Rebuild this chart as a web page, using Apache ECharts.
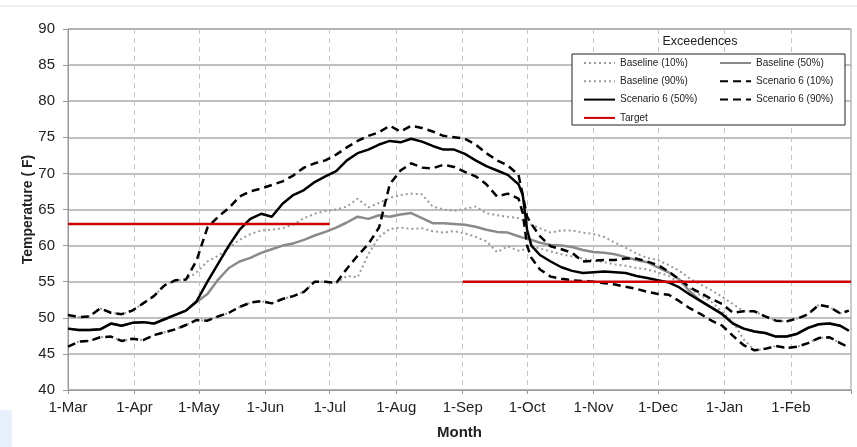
<!DOCTYPE html>
<html>
<head>
<meta charset="utf-8">
<script src="https://cdn.jsdelivr.net/npm/echarts@6/dist/echarts.min.js"></script>
<style>html,body{margin:0;padding:0;background:#fff}#c{width:857px;height:447px}</style>
</head>
<body>
<div id="c"></div>
<script>
// Day offsets from 1-Mar
const days = [0,5,10,15,20,25,30,35,40,45,50,55,60,65,70,75,80,85,90,95,100,105,110,115,120,125,130,135,140,145,150,155,160,165,170,175,180,185,190,195,200,205,210,212,214,216,220,225,230,235,240,245,250,255,260,265,270,275,280,285,290,295,300,305,310,315,320,325,330,335,340,345,350,355,360,364];
const monthNames = ['Jan','Feb','Mar','Apr','May','Jun','Jul','Aug','Sep','Oct','Nov','Dec'];

const baseline10 = [50.4,50.1,50.2,51.3,50.7,50.5,51.0,52.0,53.0,54.5,
  55.2,55.3,56.3,57.8,58.6,59.7,60.8,61.6,62.1,62.2,
  62.4,62.9,63.8,64.4,64.8,65.0,65.4,66.5,65.3,65.9,
  66.6,67.0,67.2,67.1,65.4,65.0,64.8,65.1,65.4,64.5,
  64.2,64.0,63.8, 63.5,63.2,62.9,
  62.4,61.8,62.1,62.1,61.8,61.6,61.2,60.4,59.7,58.9,
  58.3,58.0,57.3,56.5,55.4,54.6,53.8,52.9,51.9,50.9,
  50.9,50.2,49.6,49.5,49.9,50.5,51.8,51.5,50.6, 51.0];
const baseline50 = [48.5,48.3,48.3,48.4,49.2,48.9,49.3,49.4,49.2,49.8,
  50.4,51.0,52.2,53.3,55.3,56.9,57.8,58.3,59.0,59.5,
  60.0,60.3,60.8,61.4,61.9,62.5,63.2,64.0,63.7,64.2,
  64.0,64.3,64.5,63.8,63.1,63.1,63.0,62.9,62.6,62.2,
  61.9,61.8,61.3, 61.1,61.0,60.8,
  60.4,60.1,60.0,59.8,59.4,59.1,59.0,58.8,58.4,58.0,
  57.7,57.0,56.3,55.3,53.6,52.3,51.4,50.5,49.2,48.5,
  48.1,47.9,47.4,47.4,47.8,48.6,49.1,49.2,48.9, 48.2];
const baseline90 = [46.0,46.7,46.8,47.3,47.4,46.8,47.1,46.9,47.6,48.0,
  48.4,49.0,49.7,49.6,50.2,50.7,51.5,52.1,52.3,52.0,
  52.6,53.0,53.6,55.0,55.0,54.8,55.8,55.6,58.8,61.2,
  62.3,62.5,62.3,62.4,62.0,61.8,62.0,61.7,61.2,60.6,
  59.1,59.9,59.3, 59.4,59.7,59.9,
  59.6,59.2,58.8,58.5,58.2,57.9,57.7,57.4,57.2,56.9,
  56.7,56.3,55.8,54.9,54.0,53.1,52.2,50.8,49.4,47.0,
  45.5,45.7,46.1,45.8,46.0,46.5,47.2,47.3,46.5, 45.9];
const scenario10 = [50.4,50.1,50.2,51.3,50.7,50.5,51.0,52.0,53.0,54.5,
  55.2,55.3,58.0,62.5,64.0,65.2,66.8,67.5,67.9,68.4,
  68.9,69.7,70.8,71.4,71.8,72.6,73.6,74.5,75.2,75.7,
  76.6,75.8,76.6,76.3,75.8,75.2,75.0,74.8,74.0,72.8,
  71.8,71.1,69.8, 67.0,64.0,63.0,
  61.3,59.9,59.5,59.0,57.8,57.9,58.0,58.0,58.2,58.2,
  57.8,57.3,56.4,55.3,54.2,53.4,52.6,51.9,50.7,50.9,
  50.9,50.2,49.6,49.5,49.9,50.5,51.8,51.5,50.6, 51.0];
const scenario50 = [48.5,48.3,48.3,48.4,49.2,48.9,49.3,49.4,49.2,49.8,
  50.4,51.0,52.3,55.0,57.5,60.0,62.2,63.7,64.4,64.0,
  65.8,67.0,67.7,68.8,69.6,70.3,71.8,72.8,73.3,74.0,
  74.5,74.3,74.8,74.4,73.8,73.3,73.3,72.7,71.8,71.0,
  70.4,69.8,68.5, 67.0,62.2,60.0,
  58.7,57.8,57.0,56.5,56.2,56.3,56.4,56.3,56.2,55.8,
  55.5,55.2,54.9,54.2,53.2,52.3,51.4,50.5,49.2,48.5,
  48.1,47.9,47.4,47.4,47.8,48.6,49.1,49.2,48.9, 48.2];
const scenario90 = [46.0,46.7,46.8,47.3,47.4,46.8,47.1,46.9,47.6,48.0,
  48.4,49.0,49.7,49.6,50.2,50.7,51.5,52.1,52.3,52.0,
  52.6,53.0,53.6,55.0,55.0,54.8,56.8,58.6,60.2,62.5,
  68.5,70.4,71.4,70.8,70.7,71.2,70.9,70.2,69.6,68.5,
  66.8,67.2,66.5, 64.5,60.0,58.3,
  56.7,55.7,55.4,55.2,55.1,55.0,54.8,54.6,54.3,54.0,
  53.6,53.3,53.2,52.3,51.3,50.5,49.6,48.9,47.5,46.2,
  45.5,45.7,46.1,45.8,46.0,46.5,47.2,47.3,46.5, 45.9];
const targetDays = [0,122,123,184,365];
const targetValues = [63,63,null,55,55];

function toTime(d){ return new Date(2010, 2, 1 + d).getTime(); }
function pairs(xs, ys){ return xs.map((d,i)=>[toTime(d), ys[i]]); }

const FONT = "'Liberation Sans', Arial, sans-serif";
const chart = echarts.init(document.getElementById('c'), null, {renderer:'canvas'});
const xMin = toTime(0), xMax = toTime(365);

function lineSeries(name, vals, color, width, type, z){
  return {name, type:'line', data:pairs(days, vals), symbol:'none', showSymbol:false,
    lineStyle:{color, width, type}, itemStyle:{color}, z, animation:false};
}
const legendCommon = {orient:'vertical', top:58, padding:0, itemWidth:31, itemHeight:10, itemGap:8.3, z:10,
  itemStyle:{opacity:0}, textStyle:{fontSize:10, color:'#222', fontFamily:FONT}};

const option = {
  animation:false,
  backgroundColor:'#fff',
  textStyle:{fontFamily:FONT},
  grid:{left:68, right:6, top:29, bottom:57, show:true, borderColor:'#999', borderWidth:1,
        containLabel:false, outerBoundsMode:'none'},
  xAxis:{
    type:'time', min:xMin, max:xMax, splitNumber:12,
    name:'Month', nameLocation:'middle', nameGap:35, nameMoveOverlap:false,
    nameTextStyle:{fontWeight:'bold', fontSize:15, color:'#222', fontFamily:FONT},
    axisLine:{lineStyle:{color:'#999'}},
    axisTick:{show:true, length:4, lineStyle:{color:'#999'}},
    axisLabel:{fontSize:15, color:'#222', margin:10, showMaxLabel:false, hideOverlap:false, fontFamily:FONT,
      formatter:function(v){ if (v >= xMax) return ''; const d=new Date(v); return d.getDate()+'-'+monthNames[d.getMonth()]; }},
    splitLine:{show:true, lineStyle:{color:'#c4c4c4', width:1, type:[5,4]}},
    minorTick:{show:false}, minorSplitLine:{show:false}
  },
  yAxis:{
    type:'value', min:40, max:90, interval:5,
    name:'Temperature ( F)', nameLocation:'middle', nameGap:33, nameRotate:90, nameMoveOverlap:false,
    nameTextStyle:{fontWeight:'bold', fontSize:14, color:'#222', fontFamily:FONT},
    axisLine:{show:true, lineStyle:{color:'#999'}},
    axisTick:{show:true, length:5, lineStyle:{color:'#999'}},
    axisLabel:{fontSize:15, color:'#222', margin:13, fontFamily:FONT},
    splitLine:{lineStyle:{color:'#ababab', width:1.5}}
  },
  legend:[
    Object.assign({data:['Baseline (10%)','Baseline (90%)','Scenario 6 (50%)','Target'], left:583}, legendCommon),
    Object.assign({data:['Baseline (50%)','Scenario 6 (10%)','Scenario 6 (90%)'], left:719}, legendCommon)
  ],
  graphic:[
    {type:'line', shape:{x1:0, y1:6, x2:857, y2:6}, style:{stroke:'#dedede', lineWidth:1}, z:1},
    {type:'rect', shape:{x:0, y:410, width:12, height:37}, style:{fill:'#e8f0fb'}, z:1},
    {type:'rect', shape:{x:572, y:54, width:273, height:71}, style:{fill:'#fff', stroke:'#222', lineWidth:1}, z:5},
    {type:'text', x:700, y:42, style:{text:'Exceedences', fill:'#222', fontSize:12.5, fontFamily:FONT, align:'center', verticalAlign:'middle'}, z:5}
  ],
  series:[
    lineSeries('Baseline (10%)', baseline10, '#9a9a9a', 2, [2,3], 2),
    lineSeries('Baseline (50%)', baseline50, '#8a8a8a', 2.5, 'solid', 2),
    lineSeries('Baseline (90%)', baseline90, '#9a9a9a', 2, [2,3], 2),
    lineSeries('Scenario 6 (10%)', scenario10, '#000', 2.5, [8,5], 3),
    lineSeries('Scenario 6 (50%)', scenario50, '#000', 2.5, 'solid', 3),
    lineSeries('Scenario 6 (90%)', scenario90, '#000', 2.5, [8,5], 3),
    {name:'Target', type:'line', data:pairs(targetDays, targetValues), symbol:'none', connectNulls:false,
     lineStyle:{color:'#cc0000', width:2.5}, itemStyle:{color:'#cc0000'}, z:4, animation:false}
  ]
};
chart.setOption(option);
</script>
</body>
</html>
